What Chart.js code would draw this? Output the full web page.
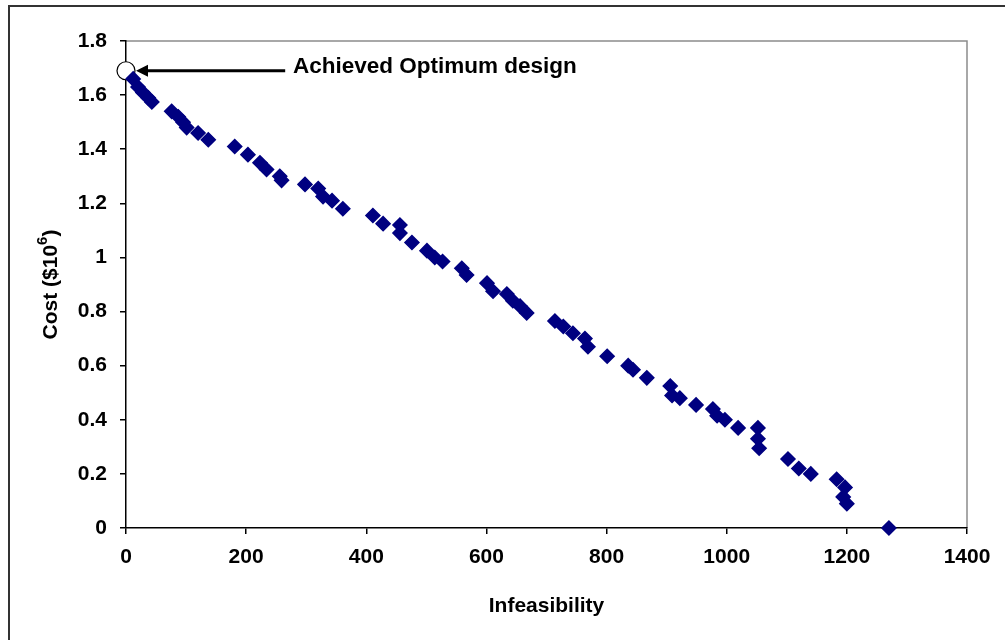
<!DOCTYPE html>
<html>
<head>
<meta charset="utf-8">
<script src="https://cdn.jsdelivr.net/npm/chart.js@4.4.1/dist/chart.umd.min.js"></script>
<style>
  html, body { margin: 0; padding: 0; background: #fff; }
  #wrap { width: 1005px; height: 640px; position: relative; }
</style>
</head>
<body>
<div id="wrap"><canvas id="chart" width="1005" height="640"></canvas></div>
<script>
// Infeasibility vs cost of explored designs
const infeasibility = [12, 20, 28, 37, 43, 76, 87, 95, 101, 120, 137, 181, 203, 223, 234, 256, 259, 298, 320, 328,
  343, 361, 411, 428, 456, 456, 476, 501, 514, 527, 559, 567, 601, 611, 634, 644, 656, 667, 714, 728,
  744, 764, 769, 801, 836, 844, 867, 906, 909, 922, 949, 977, 984, 997, 1019, 1052, 1052, 1054, 1102, 1120,
  1140, 1183, 1197, 1194, 1200, 1270];
const cost = [1.66, 1.63, 1.61, 1.59, 1.575, 1.54, 1.52, 1.50, 1.48, 1.46, 1.435, 1.41, 1.38, 1.35, 1.325, 1.30, 1.285, 1.27, 1.255, 1.225,
  1.21, 1.18, 1.155, 1.125, 1.12, 1.09, 1.055, 1.025, 1.00, 0.985, 0.96, 0.935, 0.905, 0.875, 0.865, 0.84, 0.82, 0.795, 0.765, 0.745,
  0.72, 0.70, 0.67, 0.635, 0.60, 0.585, 0.555, 0.525, 0.49, 0.48, 0.455, 0.44, 0.415, 0.40, 0.37, 0.37, 0.33, 0.295, 0.255, 0.22,
  0.20, 0.18, 0.15, 0.115, 0.09, 0];
const optimumX = [0];
const optimumCost = [1.69];
const xTicks = [0, 200, 400, 600, 800, 1000, 1200, 1400];
const yTicks = [0, 0.2, 0.4, 0.6, 0.8, 1, 1.2, 1.4, 1.6, 1.8];
const annotationText = 'Achieved Optimum design';
const annotationTextX = 278;   // data units
const arrowTailX = 265;        // data units
const yTitle = ['Cost ($10', '6', ')'];

const FONT = '"Liberation Sans", Arial, sans-serif';

const points = infeasibility.map((x, i) => ({ x: x, y: cost[i] }));
const optimum = optimumX.map((x, i) => ({ x: x, y: optimumCost[i] }));

// page border, plot frame, y title with superscript, arrow annotation
const decorations = {
  id: 'decorations',
  beforeDraw(chart) {
    const ctx = chart.ctx;
    ctx.save();
    ctx.fillStyle = '#fff';
    ctx.fillRect(0, 0, chart.width, chart.height);
    ctx.strokeStyle = '#333';
    ctx.lineWidth = 2;
    ctx.beginPath();
    ctx.moveTo(9, chart.height);
    ctx.lineTo(9, 6);
    ctx.lineTo(chart.width, 6);
    ctx.stroke();
    const a = chart.chartArea;
    ctx.strokeStyle = '#8c8c8c';
    ctx.lineWidth = 1.5;
    ctx.beginPath();
    ctx.moveTo(a.left, a.top);
    ctx.lineTo(a.right, a.top);
    ctx.lineTo(a.right, a.bottom);
    ctx.stroke();

    // y axis title
    const big = 'bold 21px ' + FONT, small = 'bold 15px ' + FONT;
    ctx.font = big;
    const w0 = ctx.measureText(yTitle[0]).width;
    const w2 = ctx.measureText(yTitle[2]).width;
    ctx.font = small;
    const w1 = ctx.measureText(yTitle[1]).width;
    const total = w0 + w1 + w2;
    ctx.translate(51, (a.top + a.bottom) / 2);
    ctx.rotate(-Math.PI / 2);
    ctx.fillStyle = '#000';
    ctx.textBaseline = 'middle';
    ctx.textAlign = 'left';
    let x = -total / 2;
    ctx.font = big;
    ctx.fillText(yTitle[0], x, 0);
    x += w0;
    ctx.font = small;
    ctx.fillText(yTitle[1], x, -8);
    x += w1;
    ctx.font = big;
    ctx.fillText(yTitle[2], x, 0);
    ctx.restore();
  },
  afterDatasetsDraw(chart) {
    const ctx = chart.ctx;
    const xs = chart.scales.x, ys = chart.scales.y;
    const px = xs.getPixelForValue(optimumX[0]);
    const py = ys.getPixelForValue(optimumCost[0]);
    const tip = px + 10;
    const tail = xs.getPixelForValue(arrowTailX);
    ctx.save();
    ctx.strokeStyle = '#000';
    ctx.fillStyle = '#000';
    ctx.lineWidth = 3;
    ctx.beginPath();
    ctx.moveTo(tail, py);
    ctx.lineTo(tip + 9, py);
    ctx.stroke();
    ctx.beginPath();
    ctx.moveTo(tip, py);
    ctx.lineTo(tip + 12, py - 6);
    ctx.lineTo(tip + 12, py + 6);
    ctx.closePath();
    ctx.fill();
    ctx.font = 'bold 22.5px ' + FONT;
    ctx.textBaseline = 'alphabetic';
    ctx.textAlign = 'left';
    ctx.fillText(annotationText, xs.getPixelForValue(annotationTextX), py + 2);
    ctx.restore();
  }
};

new Chart(document.getElementById('chart'), {
  type: 'scatter',
  data: {
    datasets: [
      {
        label: 'Designs',
        data: points,
        pointStyle: 'rectRot',
        pointRadius: 7,
        pointHoverRadius: 7,
        backgroundColor: '#000080',
        borderColor: '#000080',
        borderWidth: 1.5,
        clip: false
      },
      {
        label: 'Optimum',
        data: optimum,
        pointStyle: 'circle',
        pointRadius: 9,
        pointHoverRadius: 9,
        backgroundColor: '#fff',
        borderColor: '#000',
        borderWidth: 1.2,
        clip: false
      }
    ]
  },
  options: {
    responsive: false,
    animation: false,
    devicePixelRatio: 1,
    layout: { padding: { top: 41, right: 38, left: 0, bottom: 0 } },
    plugins: { legend: { display: false }, tooltip: { enabled: false } },
    scales: {
      x: {
        type: 'linear',
        min: 0,
        max: 1400,
        afterBuildTicks: s => { s.ticks = xTicks.map(v => ({ value: v })); },
        afterFit: s => { s.height = 112; },
        grid: { display: true, drawOnChartArea: false, drawTicks: true, tickLength: 6, color: '#000', lineWidth: 1.5 },
        border: { display: true, color: '#000', width: 1.5 },
        ticks: { color: '#000', padding: 11, maxRotation: 0, callback: v => String(v), font: { family: FONT, size: 21, weight: 'bold' } },
        title: { display: true, text: 'Infeasibility', color: '#000', padding: { top: 0, bottom: 21 }, font: { family: FONT, size: 21, weight: 'bold' } }
      },
      y: {
        type: 'linear',
        min: 0,
        max: 1.8,
        afterBuildTicks: s => { s.ticks = yTicks.map(v => ({ value: v })); },
        afterFit: s => { s.width = 126; },
        grid: { display: true, drawOnChartArea: false, drawTicks: true, tickLength: 6, color: '#000', lineWidth: 1.5 },
        border: { display: true, color: '#000', width: 1.5 },
        ticks: { color: '#000', padding: 13, callback: v => String(Math.round(v * 10) / 10), font: { family: FONT, size: 21, weight: 'bold' } },
        title: { display: false }
      }
    }
  },
  plugins: [decorations]
});
</script>
</body>
</html>
